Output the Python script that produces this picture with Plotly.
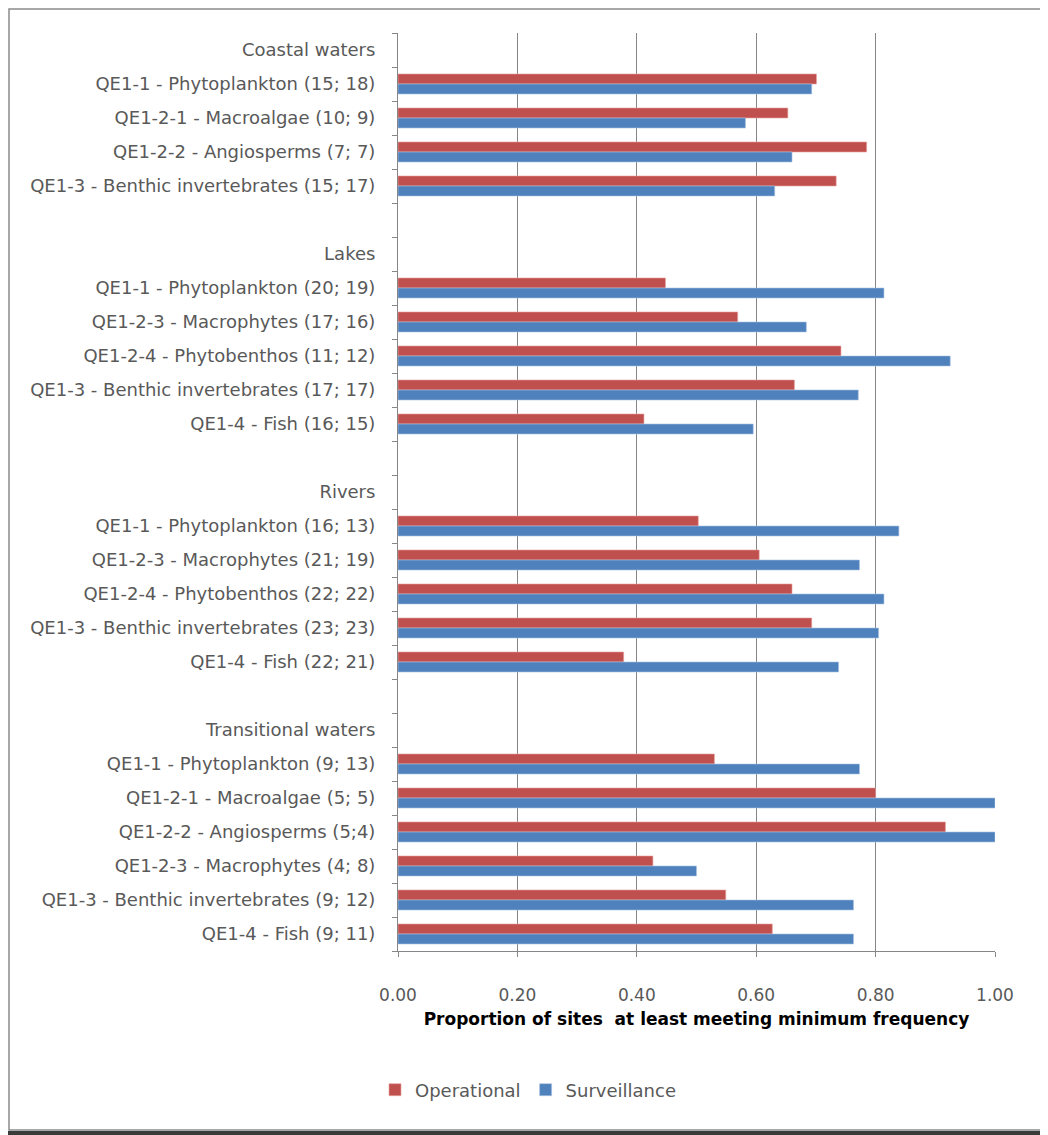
import plotly.graph_objects as go

# Row labels top to bottom (group headers and blank spacer rows included)
labels = [
    "Coastal waters",
    "QE1-1 - Phytoplankton (15; 18)",
    "QE1-2-1 - Macroalgae (10; 9)",
    "QE1-2-2 - Angiosperms (7; 7)",
    "QE1-3 - Benthic invertebrates (15; 17)",
    "",
    "Lakes",
    "QE1-1 - Phytoplankton (20; 19)",
    "QE1-2-3 - Macrophytes (17; 16)",
    "QE1-2-4 - Phytobenthos (11; 12)",
    "QE1-3 - Benthic invertebrates (17; 17)",
    "QE1-4 - Fish (16; 15)",
    "",
    "Rivers",
    "QE1-1 - Phytoplankton (16; 13)",
    "QE1-2-3 - Macrophytes (21; 19)",
    "QE1-2-4 - Phytobenthos (22; 22)",
    "QE1-3 - Benthic invertebrates (23; 23)",
    "QE1-4 - Fish (22; 21)",
    "",
    "Transitional waters",
    "QE1-1 - Phytoplankton (9; 13)",
    "QE1-2-1 - Macroalgae (5; 5)",
    "QE1-2-2 - Angiosperms (5;4)",
    "QE1-2-3 - Macrophytes (4; 8)",
    "QE1-3 - Benthic invertebrates (9; 12)",
    "QE1-4 - Fish (9; 11)",
]

operational = [
    None, 0.701, 0.653, 0.785, 0.734, None,
    None, 0.448, 0.569, 0.742, 0.664, 0.412, None,
    None, 0.503, 0.605, 0.660, 0.693, 0.378, None,
    None, 0.530, 0.800, 0.917, 0.427, 0.549, 0.627,
]
surveillance = [
    None, 0.693, 0.582, 0.660, 0.631, None,
    None, 0.814, 0.684, 0.925, 0.771, 0.595, None,
    None, 0.839, 0.773, 0.814, 0.805, 0.738, None,
    None, 0.773, 1.000, 1.000, 0.500, 0.763, 0.763,
]

x_ticks = [0, 0.2, 0.4, 0.6, 0.8, 1.0]

rows = list(range(len(labels)))
font = "DejaVu Sans"

W, H = 1040, 1127
L, R, T, B = 390, 53, 25, 184
pw, ph = W - L - R, H - T - B

fig = go.Figure()
fig.add_trace(go.Bar(
    y=rows, x=operational, orientation="h", name="Operational",
    marker=dict(color="#C0504D", line=dict(color="#E8A3A1", width=0.6)),
))
fig.add_trace(go.Bar(
    y=rows, x=surveillance, orientation="h", name="Surveillance",
    marker=dict(color="#4F81BD", line=dict(color="#A9C3E3", width=0.6)),
))

fig.update_layout(
    width=W,
    height=H,
    barmode="group",
    bargap=0.41,
    bargroupgap=0,
    plot_bgcolor="white",
    paper_bgcolor="white",
    margin=dict(l=L, r=R, t=T, b=B),
    font=dict(family=font, size=18, color="#595959"),
    showlegend=True,
    legend=dict(
        orientation="h", x=0.5, xanchor="center", xref="container",
        y=1 - 1082 / H, yanchor="middle", yref="container",
        font=dict(size=18, color="#595959"),
        itemwidth=30,
    ),
    xaxis=dict(
        range=[0, 1.0],
        tickvals=x_ticks,
        tickformat=".2f",
        tickfont=dict(size=17),
        showgrid=True,
        gridcolor="#868686",
        gridwidth=1,
        showline=True,
        linecolor="#868686",
        ticks="outside",
        ticklen=5,
        tickcolor="#868686",
        ticklabelstandoff=24,
        zeroline=False,
        title=dict(
            text="<b>Proportion of sites \u00a0at least meeting minimum frequency</b>",
            font=dict(size=17, color="#000000"),
            standoff=8,
        ),
    ),
    yaxis=dict(
        range=[len(labels) - 0.5, -0.5],
        tickvals=rows,
        ticktext=labels,
        ticks="",
        showgrid=False,
        showline=True,
        linecolor="#868686",
        zeroline=False,
        ticklabelstandoff=18,
        minor=dict(
            tickmode="linear", tick0=0.5, dtick=1,
            ticks="outside", ticklen=5, tickcolor="#868686", showgrid=False,
        ),
    ),
)

# outer chart frame and the dark strip under it
fig.add_shape(
    type="rect", xref="paper", yref="paper",
    x0=(1 - L) / pw, x1=(W - 2 - L) / pw,
    y0=(T + ph - (H - 5)) / ph, y1=(T + ph - 1) / ph,
    line=dict(color="#8C8C8C", width=1.5), fillcolor="rgba(0,0,0,0)",
)
fig.add_shape(
    type="rect", xref="paper", yref="paper",
    x0=(0 - L) / pw, x1=(W - L) / pw,
    y0=(T + ph - H) / ph, y1=(T + ph - (H - 4)) / ph,
    line=dict(width=0), fillcolor="#3A3A3A",
)

fig.write_html("out.html")
